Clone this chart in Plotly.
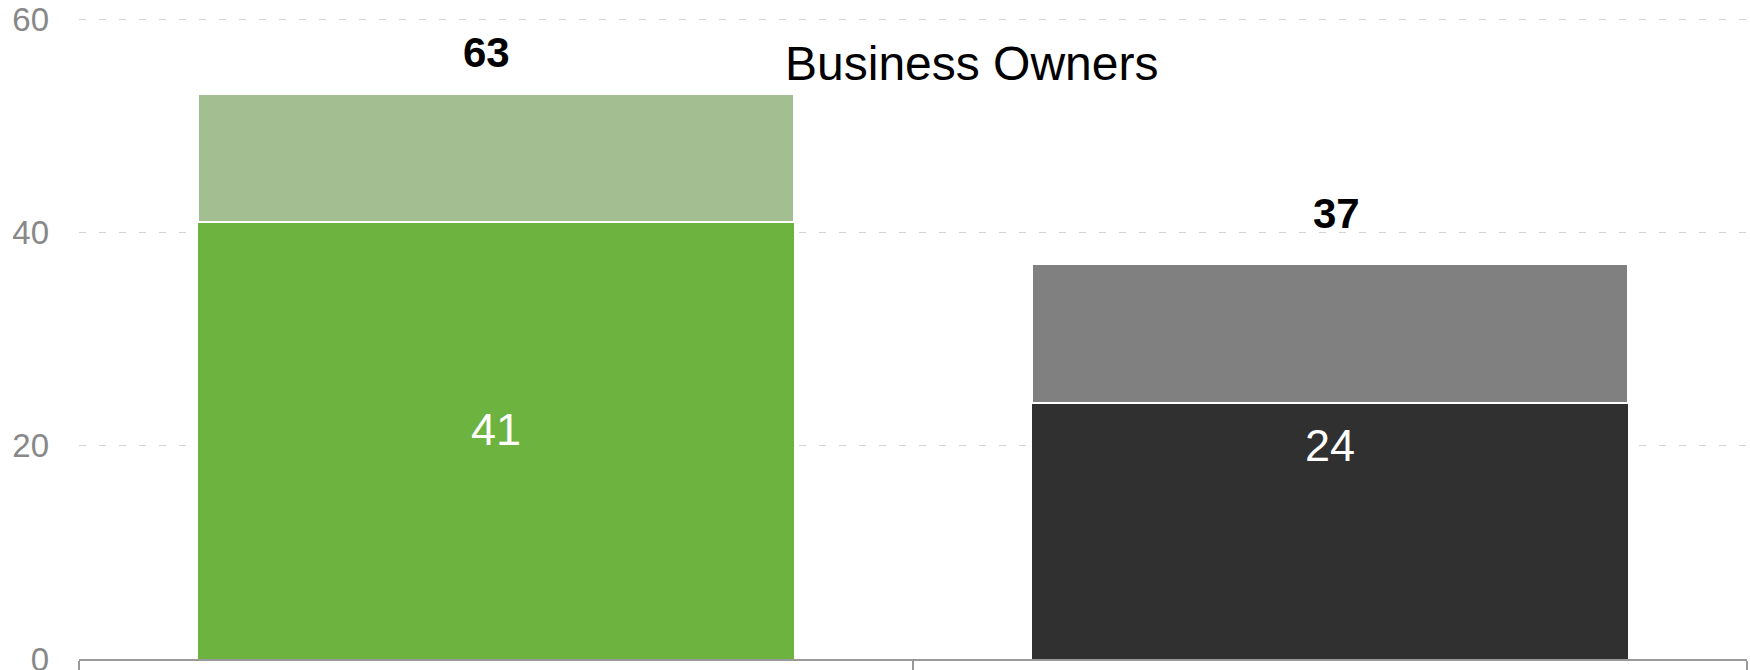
import plotly.graph_objects as go

categories = ["Category A", "Category B"]
base_values = [41, 24]
top_values = [12, 13]
total_labels = ["63", "37"]
base_labels = ["41", "24"]
y_ticks = [0, 20, 40, 60]
chart_title = "Business Owners"

base_colors = ["#6db33f", "#303030"]
top_colors = ["#a3be90", "#808080"]
FONT = "Liberation Sans, Arial, sans-serif"

fig = go.Figure()
fig.add_trace(go.Bar(
    x=categories, y=base_values, width=0.715,
    marker=dict(color=base_colors, line=dict(width=0)),
    hoverinfo="skip", showlegend=False,
))
fig.add_trace(go.Bar(
    x=categories, y=top_values, width=0.715,
    marker=dict(color=top_colors, line=dict(color="white", width=2)),
    hoverinfo="skip", showlegend=False,
))

# inner value labels
inner_y = [21.5, 20.0]
for cat, lab, yy in zip(categories, base_labels, inner_y):
    fig.add_annotation(x=cat, y=yy, text=lab, showarrow=False,
                       font=dict(family=FONT, size=45, color="white"))

# total labels above stacks
total_y = [56.9, 41.8]
total_xshift = [-10, 6]
for cat, lab, yy, xs in zip(categories, total_labels, total_y, total_xshift):
    fig.add_annotation(x=cat, y=yy, text="<b>" + lab + "</b>", showarrow=False,
                       xshift=xs,
                       font=dict(family=FONT, size=42, color="black"))

fig.add_annotation(xref="paper", x=0.535, y=55.8, text=chart_title, showarrow=False,
                   font=dict(family=FONT, size=48, color="black"))

fig.update_layout(
    width=1750, height=670,
    margin=dict(l=79, r=3, t=3, b=11, autoexpand=False),
    barmode="stack",
    plot_bgcolor="white", paper_bgcolor="white",
    font=dict(family=FONT),
    xaxis=dict(
        showline=True, linecolor="#999999", linewidth=2,
        ticks="outside", tickson="boundaries", ticklen=20, tickwidth=2,
        tickcolor="#999999", showticklabels=False, showgrid=False,
        zeroline=False, automargin=False,
    ),
    yaxis=dict(
        range=[0, 61.5], tickvals=y_ticks,
        showgrid=True, gridcolor="#d4d4d4", gridwidth=1, griddash="7px,13px",
        zeroline=False, showline=False, ticks="",
        tickfont=dict(family=FONT, size=33, color="#888888"),
        ticklabelstandoff=29, automargin=False,
        ticklabeloverflow="allow",
    ),
)

fig.write_html("out.html",
               config={"displayModeBar": False},
               post_script="document.body.style.margin='0';document.body.style.overflow='hidden';")
